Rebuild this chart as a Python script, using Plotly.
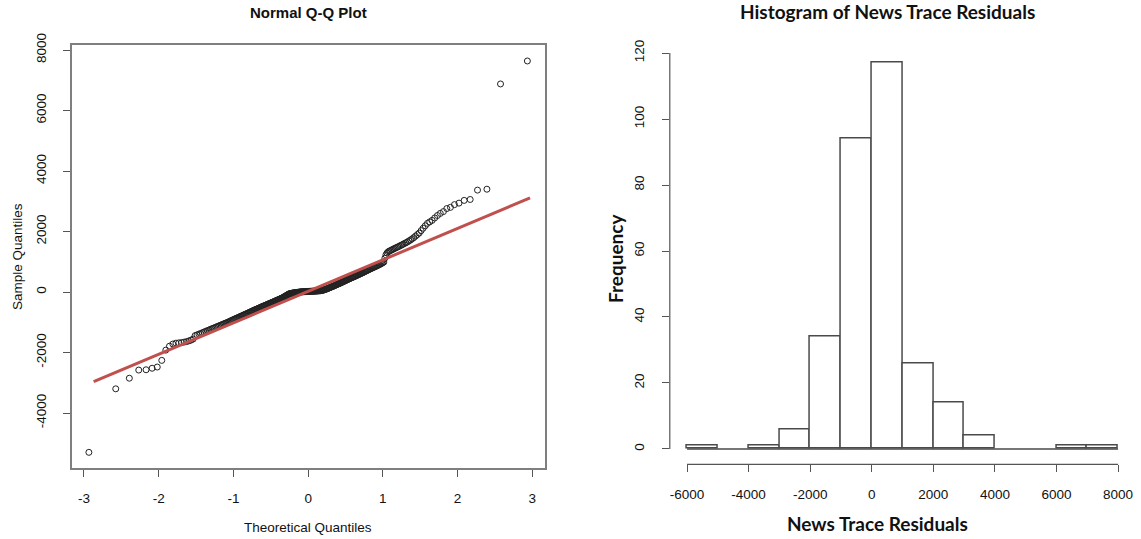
"""Normal Q-Q plot and histogram of News Trace residuals (R base-graphics look)."""

import statistics
import plotly.graph_objects as go

# ── Data: sorted residuals (n = 299) ─────────────────────────────────────────
residuals = [
    -5300, -3200, -2850, -2580, -2570, -2520, -2480, -2260,
    -1920, -1790, -1720, -1690, -1680, -1670, -1655, -1640, -1615, -1590, -1555,
    -1440, -1418, -1392, -1370, -1345, -1320, -1300, -1278, -1258, -1236,
    -1215, -1197, -1180, -1160, -1143, -1125, -1108, -1090, -1074, -1057,
    -1040, -1025, -1010, -995, -978, -960, -944, -928, -912, -896,
    -880, -866, -852, -838, -824, -810, -796, -782, -768, -754,
    -740, -727, -714, -701, -688, -675, -662, -649, -636, -623,
    -610, -598, -587, -575, -564, -552, -541, -529, -518, -506,
    -495, -484, -474, -463, -453, -442, -432, -421, -411, -400,
    -390, -380, -370, -360, -350, -340, -330, -320, -310, -300,
    -290, -280, -270, -260, -250, -240, -230, -220, -210, -200,
    -190, -177, -164, -151, -138, -125, -112, -99, -86, -73,
    -60, -55, -50, -45, -40, -35, -32, -29, -26, -23,
    -20, -17, -14, -11, -8, -5, -3,
    2, 4, 6, 8, 9, 10, 11, 12, 14, 15, 16, 17, 18,
    20, 21, 22, 23, 24, 25, 26, 27, 28, 29,
    30, 31, 33, 34, 36, 37, 39, 40, 42, 43,
    45, 50, 55, 60, 65, 70, 78, 86, 94, 102,
    110, 119, 128, 137, 146, 155, 164, 173, 182, 191,
    200, 210, 220, 230, 240, 250, 260, 270, 280, 290,
    300, 311, 322, 333, 344, 355, 366, 377, 388, 399,
    410, 421, 432, 443, 454, 465, 476, 487, 498, 509,
    520, 532, 544, 556, 568, 580, 592, 604, 616, 628,
    640, 654, 668, 682, 696, 710, 724, 738, 752, 766,
    780, 794, 808, 822, 836, 850, 866, 882, 898, 914,
    930, 950, 970, 990,
    1120, 1230, 1290, 1330, 1350, 1370, 1390, 1410, 1430, 1450,
    1470, 1490, 1510, 1535, 1555, 1580, 1605, 1630, 1655, 1690,
    1720, 1760, 1800, 1850, 1900, 1950,
    2030, 2110, 2190, 2270, 2320, 2370, 2450, 2530, 2600, 2660,
    2760, 2800, 2890, 2940,
    3030, 3060, 3370, 3400,
    6880, 7640,
]

# reference line drawn over the Q-Q plot
qq_line_x = [-2.87, 2.97]
qq_line_y = [-2965, 3115]

qq_xticks = [-3, -2, -1, 0, 1, 2, 3]
qq_yticks = [-4000, -2000, 0, 2000, 4000, 6000, 8000]
hist_xticks = [-6000, -4000, -2000, 0, 2000, 4000, 6000, 8000]
hist_yticks = [0, 20, 40, 60, 80, 100, 120]

# theoretical normal quantiles, as R's qqnorm (ppoints with a = 0.5)
n = len(residuals)
theoretical = [statistics.NormalDist().inv_cdf((i + 0.5) / n) for i in range(n)]

W, H = 1141, 539
AXIS_FONT = dict(family="Arial, Liberation Sans", size=13.5, color="#111")
HIST_FONT = dict(family="Lato, Open Sans", size=19, color="#111")
FRAME = "#7f7f7f"


def px(x, y):
    return x / W, 1 - y / H


def ascii_labels(vals):
    # R prints a plain hyphen for negatives
    return [str(v) for v in vals]


fig = go.Figure()

fig.add_trace(go.Scatter(
    x=theoretical, y=residuals, mode="markers",
    marker=dict(symbol="circle-open", size=6, color="#222",
                line=dict(width=1)),
    xaxis="x", yaxis="y", hoverinfo="skip",
))
fig.add_trace(go.Scatter(
    x=qq_line_x, y=qq_line_y, mode="lines",
    line=dict(color="#C0504D", width=3),
    xaxis="x", yaxis="y",
))
fig.add_trace(go.Histogram(
    x=residuals,
    xbins=dict(start=-6000, end=8000, size=1000),
    marker=dict(color="white", line=dict(color="#4a4a4a", width=1.5)),
    xaxis="x2", yaxis="y2",
))

qq_dom_x = [72 / W, 545 / W]
qq_dom_y = [1 - 468 / H, 1 - 45 / H]
h_dom_x = [669.8 / W, 1135.3 / W]
h_dom_y = [1 - 464.4 / H, 1 - 47.5 / H]

# automargin off: the panels sit at fixed pixel positions
tick_common = dict(ticks="outside", ticklen=7, tickcolor="#555", tickwidth=1,
                   showgrid=False, zeroline=False, tickfont=AXIS_FONT,
                   automargin=False)

fig.update_layout(
    width=W, height=H,
    margin=dict(l=0, r=0, t=0, b=0, autoexpand=False),
    paper_bgcolor="white", plot_bgcolor="white",
    showlegend=False,
    bargap=0,
    xaxis=dict(domain=qq_dom_x, range=[-3.16, 3.17], tickvals=qq_xticks,
               ticktext=ascii_labels(qq_xticks),
               showline=True, mirror=True, linecolor=FRAME, linewidth=1.5,
               ticklabelstandoff=10, anchor="y", **tick_common),
    yaxis=dict(domain=qq_dom_y, range=[-5818, 8168], tickvals=qq_yticks,
               ticktext=ascii_labels(qq_yticks),
               tickangle=-90, showline=True, mirror=True, linecolor=FRAME,
               linewidth=1.5, ticklabelstandoff=12, anchor="x", **tick_common),
    xaxis2=dict(domain=h_dom_x, range=[-6560, 8560], tickvals=hist_xticks,
                ticktext=ascii_labels(hist_xticks),
                showline=False, ticklabelstandoff=10, anchor="y2",
                **tick_common),
    yaxis2=dict(domain=h_dom_y, range=[-4.68, 121.68], tickvals=hist_yticks,
                tickangle=-90, showline=False, ticklabelstandoff=12,
                anchor="x2", **tick_common),
)

# R-style axis lines that only span the tick range
fig.add_shape(type="line", xref="x2", yref="y2 domain",
              x0=hist_xticks[0], x1=hist_xticks[-1], y0=0, y1=0,
              line=dict(color="#555", width=1.2))
fig.add_shape(type="line", xref="x2 domain", yref="y2",
              x0=0, x1=0, y0=hist_yticks[0], y1=hist_yticks[-1],
              line=dict(color="#555", width=1.2))
# baseline under empty bins
fig.add_shape(type="line", xref="x2", yref="y2",
              x0=hist_xticks[0], x1=hist_xticks[-1], y0=0, y1=0,
              line=dict(color="#4a4a4a", width=1.5))

labels = [
    ("<b>Normal Q-Q Plot</b>", 308, 13, 0, dict(AXIS_FONT, size=15)),
    ("Theoretical Quantiles", 308, 527, 0, AXIS_FONT),
    ("Sample Quantiles", 17, 257, -90, AXIS_FONT),
    ("<b>Histogram of News Trace Residuals</b>", 887, 12, 0, HIST_FONT),
    ("<b>News Trace Residuals</b>", 877, 523, 0, HIST_FONT),
    ("<b>Frequency</b>", 615, 258, -90, HIST_FONT),
]
for text, x, y, angle, font in labels:
    ax, ay = px(x, y)
    fig.add_annotation(text=text, x=ax, y=ay, xref="paper", yref="paper",
                       xanchor="center", yanchor="middle", textangle=angle,
                       showarrow=False, font=font)

# the page body has an 8px default margin; drop it so the figure fills the window
fig.write_html("out.html", config={"displayModeBar": False},
               post_script="document.body.style.margin = '0';")
